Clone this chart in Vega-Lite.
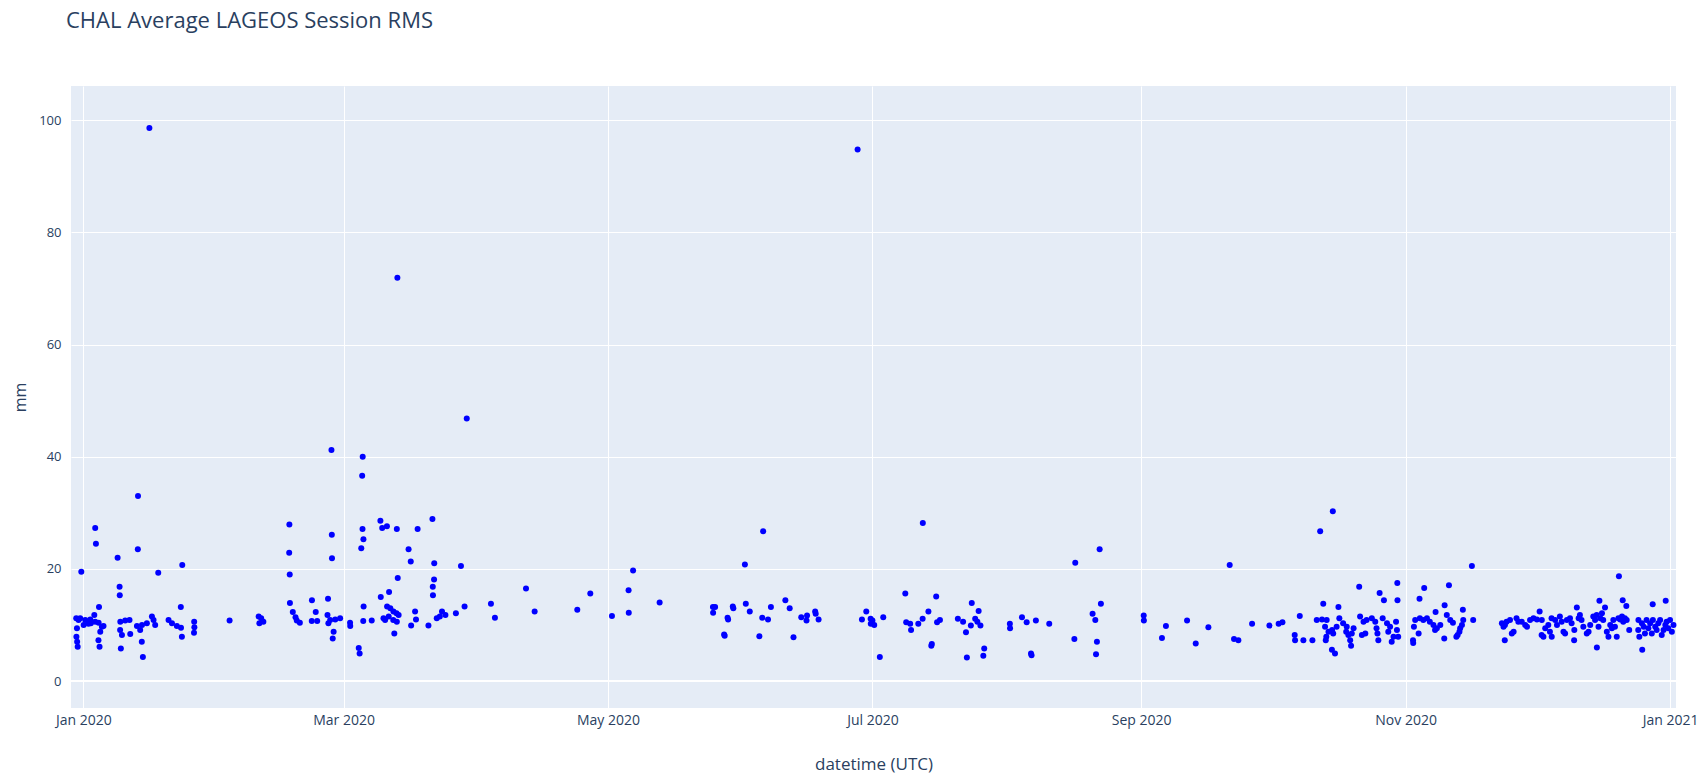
{
  "$schema": "https://vega.github.io/schema/vega-lite/v6.json",
  "width": 1605,
  "height": 622,
  "autosize": {"type": "none"},
  "padding": {"left": 71, "top": 86, "right": 30, "bottom": 67},
  "background": "#ffffff",
  "title": {"text": "CHAL Average LAGEOS Session RMS", "anchor": "start", "frame": "group", "dx": -5, "offset": 53, "font": "Open Sans", "fontSize": 22, "fontWeight": "normal", "color": "#2a3f5f"},
  "config": {
    "view": {"fill": "#E5ECF6", "stroke": null},
    "axis": {"labelFont": "Open Sans", "titleFont": "Open Sans", "labelColor": "#2a3f5f", "titleColor": "#2a3f5f", "labelFontSize": 12, "titleFontSize": 14, "titleFontWeight": "normal", "grid": true, "gridColor": "#ffffff", "gridWidth": 1, "gridOpacity": 1, "domain": false, "ticks": false}
  },
  "data": {"values": [
    {"t":"2019-12-30T08:00","v":11.2},{"t":"2019-12-31T06:00","v":11.2},{"t":"2019-12-30T12:00","v":9.4},{"t":"2019-12-30T09:00","v":7.9},{"t":"2019-12-30T13:00","v":7.0},{"t":"2019-12-30T16:00","v":6.1},{"t":"2019-12-31T12:00","v":19.5},{"t":"2019-12-30T21:00","v":10.9},
    {"t":"2020-01-01T10:00","v":10.9},{"t":"2020-01-01T01:00","v":10.0},{"t":"2020-01-02T04:00","v":10.2},{"t":"2020-01-02T14:00","v":11.0},{"t":"2020-01-02T17:00","v":10.3},{"t":"2020-01-03T12:00","v":11.8},{"t":"2020-01-03T17:00","v":10.6},{"t":"2020-01-04T12:00","v":10.4},{"t":"2020-01-04T21:00","v":8.8},{"t":"2020-01-05T15:00","v":9.8},{"t":"2020-01-05T06:00","v":9.7},{"t":"2020-01-04T11:00","v":7.3},{"t":"2020-01-04T17:00","v":6.1},{"t":"2020-01-04T14:00","v":13.2},{"t":"2020-01-03T17:00","v":27.3},{"t":"2020-01-03T21:00","v":24.5},
    {"t":"2020-01-08T21:00","v":22.0},{"t":"2020-01-09T08:00","v":16.8},{"t":"2020-01-09T09:00","v":15.3},{"t":"2020-01-09T12:00","v":10.6},{"t":"2020-01-10T15:00","v":10.8},{"t":"2020-01-11T15:00","v":10.9},{"t":"2020-01-09T11:00","v":9.1},{"t":"2020-01-09T21:00","v":8.2},{"t":"2020-01-11T19:00","v":8.4},{"t":"2020-01-09T15:00","v":5.8},
    {"t":"2020-01-13T08:00","v":9.8},{"t":"2020-01-14T12:00","v":10.0},{"t":"2020-01-15T15:00","v":10.3},{"t":"2020-01-16T19:00","v":11.5},{"t":"2020-01-17T04:00","v":10.9},{"t":"2020-01-17T13:00","v":10.0},{"t":"2020-01-14T02:00","v":9.1},{"t":"2020-01-14T11:00","v":7.0},{"t":"2020-01-14T17:00","v":4.3},{"t":"2020-01-13T13:00","v":23.5},{"t":"2020-01-13T14:00","v":33.0},{"t":"2020-01-18T06:00","v":19.3},{"t":"2020-01-16T05:00","v":98.6},
    {"t":"2020-01-20T15:00","v":10.9},{"t":"2020-01-21T10:00","v":10.3},{"t":"2020-01-22T13:00","v":9.8},{"t":"2020-01-23T12:00","v":9.5},{"t":"2020-01-23T17:00","v":7.9},{"t":"2020-01-23T11:00","v":13.2},{"t":"2020-01-23T19:00","v":20.7},{"t":"2020-01-26T13:00","v":10.6},{"t":"2020-01-26T14:00","v":9.6},{"t":"2020-01-26T12:00","v":8.6},
    {"t":"2020-02-03T17:00","v":10.8},{"t":"2020-02-10T10:00","v":11.5},{"t":"2020-02-10T14:00","v":10.3},{"t":"2020-02-11T12:00","v":10.6},{"t":"2020-02-11T00:00","v":11.2},
    {"t":"2020-02-17T12:00","v":27.9},{"t":"2020-02-17T11:00","v":22.9},{"t":"2020-02-17T14:00","v":19.0},{"t":"2020-02-17T15:00","v":13.9},{"t":"2020-02-18T07:00","v":12.3},{"t":"2020-02-18T22:00","v":11.4},{"t":"2020-02-19T05:00","v":10.8},{"t":"2020-02-19T22:00","v":10.4},
    {"t":"2020-02-22T17:00","v":14.4},{"t":"2020-02-23T14:00","v":12.3},{"t":"2020-02-22T16:00","v":10.7},{"t":"2020-02-23T22:00","v":10.7},{"t":"2020-02-26T10:00","v":14.7},{"t":"2020-02-27T05:00","v":41.2},{"t":"2020-02-27T07:00","v":26.1},{"t":"2020-02-27T08:00","v":21.9},{"t":"2020-02-26T07:00","v":11.8},{"t":"2020-02-26T22:00","v":10.9},{"t":"2020-02-26T12:00","v":10.3},{"t":"2020-02-27T17:00","v":8.8},{"t":"2020-02-27T12:00","v":7.6},{"t":"2020-02-28T02:00","v":11.0},{"t":"2020-02-29T05:00","v":11.2},
    {"t":"2020-03-02T12:00","v":10.4},{"t":"2020-03-02T13:00","v":9.8},{"t":"2020-03-04T12:00","v":5.9},{"t":"2020-03-04T17:00","v":4.9},{"t":"2020-03-05T10:00","v":40.0},{"t":"2020-03-05T07:00","v":36.6},{"t":"2020-03-05T09:00","v":27.1},{"t":"2020-03-05T14:00","v":25.3},{"t":"2020-03-05T02:00","v":23.7},{"t":"2020-03-05T15:00","v":13.3},{"t":"2020-03-05T13:00","v":10.7},{"t":"2020-03-07T12:00","v":10.8},
    {"t":"2020-03-09T12:00","v":28.6},{"t":"2020-03-09T22:00","v":27.3},{"t":"2020-03-11T00:00","v":27.6},{"t":"2020-03-13T07:00","v":27.1},{"t":"2020-03-18T02:00","v":27.1},{"t":"2020-03-21T12:00","v":28.9},{"t":"2020-03-16T00:00","v":23.5},{"t":"2020-03-16T12:00","v":21.3},{"t":"2020-03-21T22:00","v":21.0},{"t":"2020-03-28T02:00","v":20.5},{"t":"2020-03-13T12:00","v":18.4},{"t":"2020-03-21T21:00","v":18.1},{"t":"2020-03-21T14:00","v":16.8},{"t":"2020-03-21T15:00","v":15.3},
    {"t":"2020-03-09T14:00","v":15.0},{"t":"2020-03-11T12:00","v":15.9},{"t":"2020-03-11T01:00","v":13.3},{"t":"2020-03-11T19:00","v":13.0},{"t":"2020-03-12T12:00","v":12.4},{"t":"2020-03-13T05:00","v":12.1},{"t":"2020-03-13T17:00","v":11.8},{"t":"2020-03-10T05:00","v":11.2},{"t":"2020-03-11T10:00","v":11.5},{"t":"2020-03-12T11:00","v":10.9},{"t":"2020-03-13T07:00","v":10.6},{"t":"2020-03-10T14:00","v":10.9},{"t":"2020-03-12T17:00","v":8.5},
    {"t":"2020-03-17T12:00","v":12.4},{"t":"2020-03-17T17:00","v":11.0},{"t":"2020-03-16T14:00","v":9.9},{"t":"2020-03-20T14:00","v":9.9},{"t":"2020-03-22T12:00","v":11.2},{"t":"2020-03-23T17:00","v":12.4},{"t":"2020-03-24T12:00","v":11.8},{"t":"2020-03-23T05:00","v":11.5},{"t":"2020-03-26T22:00","v":12.1},{"t":"2020-03-28T22:00","v":13.3},{"t":"2020-03-29T10:00","v":46.8},{"t":"2020-03-13T10:00","v":71.9},
    {"t":"2020-04-04T00:00","v":13.8},{"t":"2020-04-04T22:00","v":11.3},{"t":"2020-04-12T02:00","v":16.5},{"t":"2020-04-14T02:00","v":12.4},{"t":"2020-04-23T22:00","v":12.7},{"t":"2020-04-26T22:00","v":15.6},
    {"t":"2020-05-01T22:00","v":11.6},{"t":"2020-05-05T19:00","v":12.2},{"t":"2020-05-05T18:00","v":16.2},{"t":"2020-05-06T19:00","v":19.7},{"t":"2020-05-12T22:00","v":14.0},{"t":"2020-05-25T05:00","v":13.2},{"t":"2020-05-25T17:00","v":13.2},{"t":"2020-05-25T06:00","v":12.2},{"t":"2020-05-28T14:00","v":11.3},{"t":"2020-05-28T17:00","v":11.0},{"t":"2020-05-27T19:00","v":8.3},{"t":"2020-05-27T22:00","v":8.1},{"t":"2020-05-29T19:00","v":13.3},{"t":"2020-05-29T22:00","v":13.0},
    {"t":"2020-06-01T19:00","v":13.8},{"t":"2020-06-01T14:00","v":20.8},{"t":"2020-06-02T17:00","v":12.4},{"t":"2020-06-05T19:00","v":26.7},{"t":"2020-06-05T14:00","v":11.3},{"t":"2020-06-06T22:00","v":11.0},{"t":"2020-06-04T22:00","v":8.0},{"t":"2020-06-07T14:00","v":13.2},{"t":"2020-06-10T22:00","v":14.4},{"t":"2020-06-11T22:00","v":13.0},{"t":"2020-06-12T19:00","v":7.8},{"t":"2020-06-14T14:00","v":11.4},{"t":"2020-06-15T19:00","v":10.8},{"t":"2020-06-15T22:00","v":11.7},{"t":"2020-06-17T19:00","v":12.4},{"t":"2020-06-17T22:00","v":12.0},{"t":"2020-06-18T14:00","v":11.0},
    {"t":"2020-06-27T14:00","v":94.8},{"t":"2020-06-28T14:00","v":11.0},{"t":"2020-06-29T14:00","v":12.4},{"t":"2020-06-30T14:00","v":11.1},{"t":"2020-07-01T00:00","v":10.8},{"t":"2020-07-01T10:00","v":10.0},{"t":"2020-06-30T15:00","v":10.2},{"t":"2020-07-03T12:00","v":11.4},{"t":"2020-07-02T17:00","v":4.3},
    {"t":"2020-07-08T14:00","v":15.6},{"t":"2020-07-08T19:00","v":10.5},{"t":"2020-07-09T17:00","v":10.2},{"t":"2020-07-09T22:00","v":9.1},{"t":"2020-07-11T14:00","v":10.2},{"t":"2020-07-12T14:00","v":11.1},{"t":"2020-07-13T22:00","v":12.4},{"t":"2020-07-12T15:00","v":28.2},{"t":"2020-07-14T14:00","v":6.3},{"t":"2020-07-14T17:00","v":6.6},{"t":"2020-07-15T17:00","v":15.1},{"t":"2020-07-15T22:00","v":10.5},{"t":"2020-07-16T14:00","v":10.9},
    {"t":"2020-07-20T17:00","v":11.1},{"t":"2020-07-21T22:00","v":10.6},{"t":"2020-07-22T14:00","v":8.7},{"t":"2020-07-22T19:00","v":4.2},{"t":"2020-07-23T17:00","v":9.9},{"t":"2020-07-23T22:00","v":13.9},{"t":"2020-07-24T17:00","v":11.1},{"t":"2020-07-25T12:00","v":12.5},{"t":"2020-07-25T05:00","v":10.6},{"t":"2020-07-25T22:00","v":9.9},{"t":"2020-07-26T14:00","v":4.5},{"t":"2020-07-26T19:00","v":5.8},
    {"t":"2020-08-01T17:00","v":10.2},{"t":"2020-08-01T18:00","v":9.4},{"t":"2020-08-04T12:00","v":11.4},{"t":"2020-08-05T14:00","v":10.5},{"t":"2020-08-07T17:00","v":10.8},{"t":"2020-08-10T19:00","v":10.2},{"t":"2020-08-06T14:00","v":4.9},{"t":"2020-08-06T17:00","v":4.6},{"t":"2020-08-16T14:00","v":7.5},{"t":"2020-08-16T19:00","v":21.1},{"t":"2020-08-20T19:00","v":12.0},{"t":"2020-08-21T10:00","v":10.9},{"t":"2020-08-21T19:00","v":7.0},{"t":"2020-08-21T14:00","v":4.8},{"t":"2020-08-22T10:00","v":23.5},{"t":"2020-08-22T17:00","v":13.8},
    {"t":"2020-09-01T14:00","v":11.7},{"t":"2020-09-01T15:00","v":10.8},{"t":"2020-09-05T19:00","v":7.7},{"t":"2020-09-06T17:00","v":9.8},{"t":"2020-09-11T14:00","v":10.8},{"t":"2020-09-13T14:00","v":6.7},{"t":"2020-09-16T12:00","v":9.6},{"t":"2020-09-21T10:00","v":20.7},{"t":"2020-09-22T10:00","v":7.5},{"t":"2020-09-23T10:00","v":7.3},{"t":"2020-09-26T14:00","v":10.2},{"t":"2020-09-30T14:00","v":9.9},
    {"t":"2020-10-02T17:00","v":10.2},{"t":"2020-10-03T14:00","v":10.5},{"t":"2020-10-07T14:00","v":11.6},{"t":"2020-10-06T10:00","v":8.2},{"t":"2020-10-06T12:00","v":7.3},{"t":"2020-10-08T10:00","v":7.3},{"t":"2020-10-10T12:00","v":7.3},{"t":"2020-10-12T07:00","v":26.7},{"t":"2020-10-15T05:00","v":30.3},{"t":"2020-10-13T00:00","v":13.8},
    {"t":"2020-10-16T12:00","v":13.2},{"t":"2020-10-21T07:00","v":16.8},{"t":"2020-10-26T00:00","v":15.7},{"t":"2020-10-27T00:00","v":14.4},{"t":"2020-10-30T02:00","v":17.5},{"t":"2020-10-30T03:00","v":14.4},{"t":"2020-11-04T05:00","v":14.7},{"t":"2020-11-05T07:00","v":16.6},{"t":"2020-11-11T00:00","v":17.1},{"t":"2020-11-10T00:00","v":13.5},{"t":"2020-11-07T22:00","v":12.3},{"t":"2020-11-14T05:00","v":12.7},{"t":"2020-11-16T14:00","v":10.9},{"t":"2020-11-09T22:00","v":7.6},{"t":"2020-11-12T17:00","v":7.9},{"t":"2020-11-13T00:00","v":8.2},{"t":"2020-11-02T17:00","v":7.3},{"t":"2020-11-02T18:00","v":6.8},{"t":"2020-10-15T00:00","v":5.6},{"t":"2020-10-15T17:00","v":4.9},{"t":"2020-11-16T07:00","v":20.5},
    {"t":"2020-10-11T12:00","v":10.9},{"t":"2020-10-12T17:00","v":11.0},{"t":"2020-10-13T19:00","v":10.9},{"t":"2020-10-13T10:00","v":9.7},{"t":"2020-10-14T05:00","v":8.8},{"t":"2020-10-13T17:00","v":7.9},{"t":"2020-10-13T14:00","v":7.3},{"t":"2020-10-15T01:00","v":9.1},{"t":"2020-10-15T07:00","v":8.5},{"t":"2020-10-16T02:00","v":9.7},{"t":"2020-10-16T17:00","v":11.2},{"t":"2020-10-17T14:00","v":10.3},{"t":"2020-10-18T10:00","v":9.7},{"t":"2020-10-18T07:00","v":8.8},{"t":"2020-10-18T19:00","v":8.2},{"t":"2020-10-19T05:00","v":7.3},{"t":"2020-10-19T10:00","v":6.3},{"t":"2020-10-20T00:00","v":9.4},{"t":"2020-10-19T14:00","v":8.5},
    {"t":"2020-10-21T12:00","v":11.5},{"t":"2020-10-22T07:00","v":10.6},{"t":"2020-10-23T00:00","v":10.9},{"t":"2020-10-22T17:00","v":8.5},{"t":"2020-10-21T22:00","v":8.2},{"t":"2020-10-24T05:00","v":11.2},{"t":"2020-10-25T00:00","v":10.6},{"t":"2020-10-25T07:00","v":9.4},{"t":"2020-10-25T12:00","v":8.5},{"t":"2020-10-25T17:00","v":7.3},{"t":"2020-10-26T17:00","v":11.2},{"t":"2020-10-27T17:00","v":10.3},{"t":"2020-10-28T10:00","v":9.7},{"t":"2020-10-28T00:00","v":8.8},{"t":"2020-10-28T19:00","v":7.0},{"t":"2020-10-29T05:00","v":7.9},{"t":"2020-10-29T19:00","v":10.6},{"t":"2020-10-30T00:00","v":9.1},{"t":"2020-10-30T07:00","v":7.9},
    {"t":"2020-11-02T22:00","v":9.7},{"t":"2020-11-03T05:00","v":10.9},{"t":"2020-11-04T00:00","v":8.5},{"t":"2020-11-04T07:00","v":11.2},{"t":"2020-11-05T02:00","v":10.9},{"t":"2020-11-05T22:00","v":11.2},{"t":"2020-11-06T14:00","v":10.6},{"t":"2020-11-07T10:00","v":10.0},{"t":"2020-11-08T05:00","v":9.4},{"t":"2020-11-07T19:00","v":9.1},{"t":"2020-11-09T00:00","v":10.0},{"t":"2020-11-10T12:00","v":11.8},{"t":"2020-11-11T07:00","v":10.9},{"t":"2020-11-11T22:00","v":10.4},{"t":"2020-11-13T14:00","v":9.4},{"t":"2020-11-14T00:00","v":10.0},{"t":"2020-11-14T07:00","v":10.9},{"t":"2020-11-13T10:00","v":8.8},
    {"t":"2020-11-23T05:00","v":10.3},{"t":"2020-11-23T14:00","v":9.7},{"t":"2020-11-23T22:00","v":10.0},{"t":"2020-11-23T21:00","v":7.3},{"t":"2020-11-24T07:00","v":10.6},{"t":"2020-11-25T02:00","v":10.9},{"t":"2020-11-25T22:00","v":8.8},{"t":"2020-11-25T12:00","v":8.5},{"t":"2020-11-26T14:00","v":11.2},{"t":"2020-11-27T00:00","v":10.6},{"t":"2020-11-27T19:00","v":10.6},{"t":"2020-11-28T14:00","v":10.0},{"t":"2020-11-29T00:00","v":9.7},{"t":"2020-11-29T17:00","v":10.9},{"t":"2020-11-30T12:00","v":11.2},
    {"t":"2020-12-01T07:00","v":11.0},{"t":"2020-12-01T22:00","v":12.4},{"t":"2020-12-02T10:00","v":10.9},{"t":"2020-12-02T19:00","v":7.9},{"t":"2020-12-02T09:00","v":8.2},{"t":"2020-12-03T05:00","v":9.4},{"t":"2020-12-03T22:00","v":10.0},{"t":"2020-12-04T07:00","v":8.8},{"t":"2020-12-04T17:00","v":7.9},{"t":"2020-12-04T16:00","v":11.2},{"t":"2020-12-05T12:00","v":10.9},{"t":"2020-12-05T22:00","v":10.0},{"t":"2020-12-06T14:00","v":11.5},{"t":"2020-12-07T00:00","v":10.6},{"t":"2020-12-07T10:00","v":8.8},{"t":"2020-12-07T19:00","v":8.5},{"t":"2020-12-08T05:00","v":10.9},{"t":"2020-12-08T22:00","v":11.2},{"t":"2020-12-09T07:00","v":10.3},{"t":"2020-12-09T22:00","v":9.1},{"t":"2020-12-09T21:00","v":7.3},
    {"t":"2020-12-10T12:00","v":13.1},{"t":"2020-12-10T22:00","v":11.2},{"t":"2020-12-11T05:00","v":11.8},{"t":"2020-12-11T14:00","v":10.9},{"t":"2020-12-12T00:00","v":9.7},{"t":"2020-12-12T19:00","v":8.5},{"t":"2020-12-13T05:00","v":8.8},{"t":"2020-12-13T14:00","v":10.0},{"t":"2020-12-14T07:00","v":11.5},{"t":"2020-12-14T17:00","v":10.9},{"t":"2020-12-15T02:00","v":11.8},{"t":"2020-12-15T03:00","v":6.0},{"t":"2020-12-15T12:00","v":9.7},{"t":"2020-12-15T17:00","v":14.3},{"t":"2020-12-15T22:00","v":11.2},{"t":"2020-12-16T07:00","v":12.1},{"t":"2020-12-16T14:00","v":10.9},{"t":"2020-12-17T00:00","v":13.1},{"t":"2020-12-17T10:00","v":8.8},{"t":"2020-12-17T19:00","v":7.9},
    {"t":"2020-12-18T05:00","v":10.0},{"t":"2020-12-18T14:00","v":9.4},{"t":"2020-12-18T22:00","v":10.9},{"t":"2020-12-19T07:00","v":9.7},{"t":"2020-12-19T17:00","v":7.9},{"t":"2020-12-20T02:00","v":11.2},{"t":"2020-12-20T05:00","v":18.7},{"t":"2020-12-20T12:00","v":11.0},{"t":"2020-12-20T22:00","v":11.5},{"t":"2020-12-21T02:00","v":14.4},{"t":"2020-12-21T22:00","v":13.4},{"t":"2020-12-21T05:00","v":10.6},{"t":"2020-12-21T14:00","v":11.2},{"t":"2020-12-22T00:00","v":10.9},{"t":"2020-12-22T14:00","v":9.1},
    {"t":"2020-12-24T17:00","v":10.9},{"t":"2020-12-24T16:00","v":9.1},{"t":"2020-12-24T22:00","v":7.9},{"t":"2020-12-25T12:00","v":10.3},{"t":"2020-12-25T14:00","v":5.6},{"t":"2020-12-25T22:00","v":9.7},{"t":"2020-12-26T05:00","v":8.5},{"t":"2020-12-26T14:00","v":10.9},{"t":"2020-12-27T00:00","v":9.4},{"t":"2020-12-27T10:00","v":10.3},{"t":"2020-12-27T19:00","v":8.5},{"t":"2020-12-28T00:00","v":13.7},{"t":"2020-12-28T01:00","v":10.9},{"t":"2020-12-28T14:00","v":9.7},{"t":"2020-12-28T22:00","v":9.1},{"t":"2020-12-29T07:00","v":10.3},{"t":"2020-12-29T17:00","v":10.9},{"t":"2020-12-30T02:00","v":8.2},{"t":"2020-12-30T12:00","v":9.1},{"t":"2020-12-30T22:00","v":10.0},{"t":"2020-12-31T00:00","v":14.3},{"t":"2020-12-31T05:00","v":10.6},{"t":"2020-12-31T14:00","v":9.4},{"t":"2021-01-01T00:00","v":10.9},{"t":"2021-01-01T10:00","v":8.8},{"t":"2021-01-01T19:00","v":10.0}
  ]},
  "layer": [
    {
      "mark": {"type": "point", "filled": true, "shape": "circle", "size": 36, "color": "#0000ff", "opacity": 1},
      "encoding": {
        "x": {"field": "t", "type": "temporal", "title": "datetime (UTC)",
              "scale": {"domain": [{"year": 2019, "month": 12, "date": 29, "hours": 3}, {"year": 2021, "month": 1, "date": 2, "hours": 9}], "nice": false},
              "axis": {"format": "%b %Y", "tickCount": {"interval": "month", "step": 2}, "labelPadding": 5, "labelFontSize": 14, "labelFlush": false, "titleFontSize": 17, "titlePadding": 29, "grid": true}},
        "y": {"field": "v", "type": "quantitative", "title": "mm",
              "scale": {"domain": [-4.8, 106.1], "nice": false, "zero": false},
              "axis": {"values": [0, 20, 40, 60, 80, 100], "labelPadding": 10, "labelFontSize": 13, "titleFontSize": 16, "grid": true, "titleX": -51, "titleY": 311, "titleBaseline": "middle", "titleAngle": -90}}
      }
    },
    {
      "mark": {"type": "rule", "color": "#ffffff", "strokeWidth": 2},
      "encoding": {"y": {"datum": 0, "type": "quantitative"}}
    }
  ]
}
